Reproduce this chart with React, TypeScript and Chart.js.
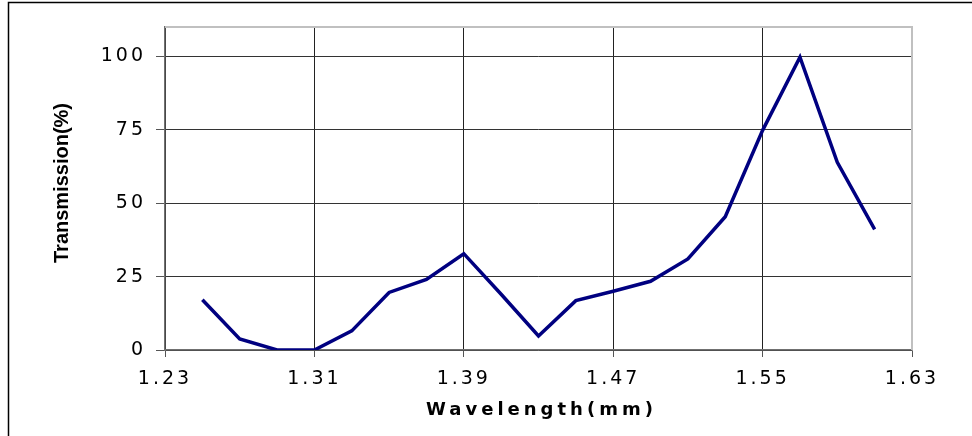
import React, { useEffect, useRef } from 'react';
import { Chart, registerables } from 'chart.js';

Chart.register(...registerables);

// Data
const wavelengths = [1.25, 1.27, 1.29, 1.31, 1.33, 1.35, 1.37, 1.39, 1.41, 1.43, 1.45, 1.47, 1.49, 1.51, 1.53, 1.55, 1.57, 1.59, 1.61];
const transmission = [17.1, 3.8, 0, 0, 6.5, 19.6, 24, 32.8, 19, 4.8, 16.8, 20, 23.4, 31, 45.4, 74.8, 99.7, 63.9, 41.1];

const xTickLabels = ['1.23', '1.31', '1.39', '1.47', '1.55', '1.63'];
const yTickLabels = ['0', '25', '50', '75', '100'];
const xMin = 1.23;
const xMax = 1.63;
const xStep = 0.08;
const yMin = 0;
const yMax = 110;
const yStep = 25;

const xTitle = 'Wavelength(mm)';
const yTitle = 'Transmission(%)';

const TICK_FONT = "'DejaVu Sans', 'Liberation Sans', Arial, sans-serif";
const TITLE_FONT = "'Liberation Sans', Arial, sans-serif";

export default function App() {
  const ref = useRef<HTMLCanvasElement | null>(null);

  useEffect(() => {
    if (!ref.current) return;

    const decorPlugin = {
      id: 'decor',
      beforeDraw(chart: any) {
        const ctx = chart.ctx;
        ctx.save();
        ctx.fillStyle = '#ffffff';
        ctx.fillRect(0, 0, chart.width, chart.height);
        // outer frame
        ctx.strokeStyle = '#000000';
        ctx.lineWidth = 1.5;
        ctx.beginPath();
        ctx.moveTo(8.5, chart.height);
        ctx.lineTo(8.5, 2.5);
        ctx.lineTo(chart.width, 2.5);
        ctx.stroke();
        ctx.restore();
        (ctx as any).letterSpacing = '3px';
      },
      beforeDatasetsDraw(chart: any) {
        const ctx = chart.ctx;
        const a = chart.chartArea;
        ctx.save();
        ctx.strokeStyle = '#c0c0c0';
        ctx.lineWidth = 2;
        ctx.beginPath();
        ctx.moveTo(a.left, a.top);
        ctx.lineTo(a.right, a.top);
        ctx.lineTo(a.right, a.bottom);
        ctx.stroke();
        ctx.restore();
      },
      afterDraw(chart: any) {
        const ctx = chart.ctx;
        const a = chart.chartArea;
        ctx.save();
        (ctx as any).letterSpacing = '4px';
        ctx.fillStyle = '#000000';
        ctx.font = `bold 18px ${TICK_FONT}`;
        ctx.textAlign = 'center';
        ctx.textBaseline = 'middle';
        ctx.fillText(xTitle, (a.left + a.right) / 2 + 3, 410);
        (ctx as any).letterSpacing = '0px';
        ctx.font = `bold 20px ${TITLE_FONT}`;
        ctx.translate(62, 183);
        ctx.rotate(-Math.PI / 2);
        ctx.fillText(yTitle, 0, 0);
        ctx.restore();
      },
    };

    const chart = new Chart(ref.current, {
      type: 'line',
      data: {
        datasets: [
          {
            data: wavelengths.map((w, i) => ({ x: w, y: transmission[i] })),
            borderColor: '#000080',
            borderWidth: 3.5,
            pointRadius: 0,
            tension: 0,
            fill: false,
          },
        ],
      },
      options: {
        animation: false,
        responsive: false,
        devicePixelRatio: 1,
        layout: { padding: { left: 0, top: 27, right: 60, bottom: 0 } },
        plugins: {
          legend: { display: false },
          tooltip: { enabled: false },
        },
        scales: {
          x: {
            type: 'linear',
            min: xMin,
            max: xMax,
            afterFit: (s: any) => {
              s.height = 86;
            },
            ticks: {
              stepSize: xStep,
              autoSkip: false,
              maxRotation: 0,
              padding: 11,
              color: '#000000',
              font: { family: TICK_FONT, size: 19 },
              callback: (v: any) => {
                const s = Number(v).toFixed(2);
                return xTickLabels.includes(s) ? s : '';
              },
            },
            grid: {
              color: '#222222',
              lineWidth: 1,
              tickLength: 7,
              tickColor: '#555555',
            },
            border: { color: '#707070', width: 1.5 },
          },
          y: {
            type: 'linear',
            min: yMin,
            max: yMax,
            afterFit: (s: any) => {
              s.width = 165;
            },
            ticks: {
              stepSize: yStep,
              includeBounds: false,
              autoSkip: false,
              padding: 10,
              color: '#000000',
              font: { family: TICK_FONT, size: 19 },
              callback: (v: any) => {
                const s = String(Math.round(Number(v)));
                return yTickLabels.includes(s) ? s : '';
              },
            },
            grid: {
              color: '#333333',
              lineWidth: 1,
              tickLength: 9,
              tickColor: '#555555',
            },
            border: { color: '#707070', width: 1.5 },
          },
        },
      },
      plugins: [decorPlugin],
    });

    return () => chart.destroy();
  }, []);

  return (
    <div style={{ position: 'fixed', left: 0, top: 0, width: 972, height: 436, background: '#fff' }}>
      <canvas ref={ref} width={972} height={436} style={{ display: 'block', width: 972, height: 436 }} />
    </div>
  );
}
